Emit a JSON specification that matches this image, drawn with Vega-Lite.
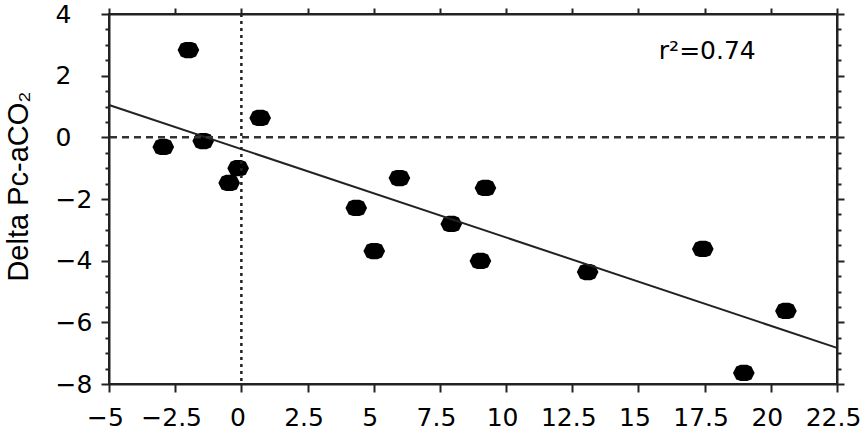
{
  "$schema": "https://vega.github.io/schema/vega-lite/v6.json",
  "width": 728,
  "height": 370,
  "autosize": "none",
  "padding": {"left": 109, "top": 14, "right": 27, "bottom": 48},
  "background": "white",
  "config": {
    "view": {"stroke": "#222", "strokeWidth": 2},
    "font": "DejaVu Sans",
    "axis": {
      "domainColor": "#222",
      "domainWidth": 2,
      "tickColor": "#222",
      "tickWidth": 2,
      "grid": false,
      "labelFont": "DejaVu Sans",
      "labelColor": "#000",
      "titleFont": "Liberation Sans",
      "titleColor": "#000",
      "titleFontWeight": "normal"
    }
  },
  "datasets": {
    "points": [
      {"x": -2.0, "y": 2.83},
      {"x": -2.95, "y": -0.31},
      {"x": -1.44, "y": -0.12},
      {"x": 0.71, "y": 0.63},
      {"x": -0.12, "y": -1.0},
      {"x": -0.46, "y": -1.48},
      {"x": 4.34, "y": -2.29},
      {"x": 5.02, "y": -3.69},
      {"x": 5.97, "y": -1.32},
      {"x": 7.93, "y": -2.81},
      {"x": 9.22, "y": -1.64},
      {"x": 9.03, "y": -4.01},
      {"x": 13.08, "y": -4.37},
      {"x": 17.43, "y": -3.62},
      {"x": 20.57, "y": -5.63},
      {"x": 18.98, "y": -7.64}
    ],
    "fit": [
      {"x": -5, "y": 1.05},
      {"x": 22.5, "y": -6.83}
    ]
  },
  "layer": [
    {
      "data": {"name": "points"},
      "mark": {
        "type": "point",
        "filled": true,
        "color": "#000",
        "opacity": 1,
        "size": 470,
        "shape": "M-1,0 L-0.7,-0.6 L-0.3,-0.75 L0.3,-0.75 L0.7,-0.6 L1,0 L0.7,0.6 L0.3,0.75 L-0.3,0.75 L-0.7,0.6 Z"
      },
      "encoding": {
        "x": {
          "field": "x",
          "type": "quantitative",
          "scale": {"domain": [-5, 22.5], "nice": false, "zero": false},
          "axis": {
            "orient": "bottom",
            "title": null,
            "values": [-5, -2.5, 0, 2.5, 5, 7.5, 10, 12.5, 15, 17.5, 20, 22.5],
            "labelExpr": "format(datum.value, '~g')",
            "labelFontSize": 25,
            "tickSize": 8,
            "labelPadding": 13,
            "labelOffset": -4,
            "labelFlush": false,
            "labelOverlap": false
          }
        },
        "y": {
          "field": "y",
          "type": "quantitative",
          "scale": {"domain": [-8, 4], "nice": false, "zero": false},
          "axis": {
            "orient": "left",
            "title": "Delta Pc-aCO₂",
            "titleFontSize": 29,
            "titlePadding": 22,
            "titleY": 172,
            "values": [-8, -7.5, -7, -6.5, -6, -5.5, -5, -4.5, -4, -3.5, -3, -2.5, -2, -1.5, -1, -0.5, 0, 0.5, 1, 1.5, 2, 2.5, 3, 3.5, 4],
            "labelExpr": "datum.value % 2 === 0 ? format(datum.value, 'd') : ''",
            "labelFontSize": 25,
            "labelAlign": "left",
            "labelBaseline": "middle",
            "labelPadding": 46,
            "labelFlush": false,
            "labelOverlap": false,
            "tickSize": {"condition": {"test": "datum.value % 2 === 0", "value": 8}, "value": 4}
          }
        }
      }
    },
    {
      "data": {"name": "fit"},
      "mark": {"type": "line", "color": "#222", "strokeWidth": 2},
      "encoding": {
        "x": {
          "field": "x",
          "type": "quantitative",
          "axis": {
            "orient": "top",
            "title": null,
            "labels": false,
            "values": [-5, -2.5, 0, 2.5, 5, 7.5, 10, 12.5, 15, 17.5, 20, 22.5],
            "tickSize": 6
          }
        },
        "y": {
          "field": "y",
          "type": "quantitative",
          "axis": {
            "orient": "right",
            "title": null,
            "labels": false,
            "values": [-8, -7.5, -7, -6.5, -6, -5.5, -5, -4.5, -4, -3.5, -3, -2.5, -2, -1.5, -1, -0.5, 0, 0.5, 1, 1.5, 2, 2.5, 3, 3.5, 4],
            "tickSize": {"condition": {"test": "datum.value % 2 === 0", "value": 7}, "value": 4}
          }
        }
      }
    },
    {
      "data": {"values": [{"x": 0}]},
      "mark": {"type": "rule", "color": "#222", "strokeWidth": 2.5, "strokeDash": [3, 4]},
      "encoding": {
        "x": {"field": "x", "type": "quantitative", "axis": null}
      }
    },
    {
      "data": {"values": [{"y": 0}]},
      "mark": {"type": "rule", "color": "#333", "strokeWidth": 2.5, "strokeDash": [7, 5]},
      "encoding": {
        "y": {"field": "y", "type": "quantitative", "axis": null}
      }
    },
    {
      "data": {"values": [{"x": 17.6, "y": 2.8, "label": "r²=0.74"}]},
      "mark": {"type": "text", "fontSize": 25, "color": "#000", "baseline": "middle", "align": "center", "font": "DejaVu Sans"},
      "encoding": {
        "x": {"field": "x", "type": "quantitative", "axis": null},
        "y": {"field": "y", "type": "quantitative", "axis": null},
        "text": {"field": "label"}
      }
    }
  ],
  "resolve": {"axis": {"x": "independent", "y": "independent"}}
}
